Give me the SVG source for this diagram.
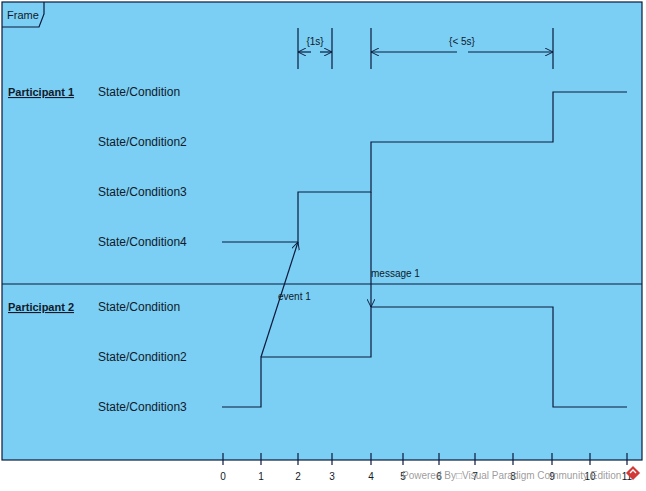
<svg xmlns="http://www.w3.org/2000/svg" width="646" height="491" viewBox="0 0 646 491">
<defs>
<style>
.ln{fill:none;stroke:#0B1A3C;stroke-width:1.2}
.t{font-family:"Liberation Sans",Arial,sans-serif;font-size:12px;fill:#111a2a}
.s{font-family:"Liberation Sans",Arial,sans-serif;font-size:10px;fill:#111a2a}
.p{font-family:"Liberation Sans",Arial,sans-serif;font-size:11px;font-weight:bold;fill:#111a2a;text-decoration:underline}
</style>
<marker id="ah" viewBox="0 0 10 10" refX="10" refY="5" markerWidth="8" markerHeight="8" orient="auto" markerUnits="userSpaceOnUse">
<path d="M0,0 L10,5 L0,10" fill="none" stroke="#0B1A3C" stroke-width="1.2"/>
</marker>
</defs>
<rect width="646" height="491" fill="#ffffff"/>
<g id="frame">
<rect x="2" y="2" width="640" height="458" fill="#7BCFF4" stroke="#0B1A3C" stroke-width="1.2"/>
<path class="ln" d="M2,27 L39,27 L44,14 L44,2"/>
<text class="s" x="7" y="19" style="font-size:11px">Frame</text>
<line class="ln" x1="2" y1="284" x2="642" y2="284"/>
</g>
<g id="participant1">
<text class="p" x="8" y="96">Participant 1</text>
<text class="t" x="98" y="96">State/Condition</text>
<text class="t" x="98" y="146">State/Condition2</text>
<text class="t" x="98" y="196">State/Condition3</text>
<text class="t" x="98" y="246">State/Condition4</text>
<path class="ln" d="M222,242 L298,242 L298,192 L371,192 L371,142 L553,142 L553,92 L627,92"/>
</g>
<g id="participant2">
<text class="p" x="8" y="311">Participant 2</text>
<text class="t" x="98" y="311">State/Condition</text>
<text class="t" x="98" y="361">State/Condition2</text>
<text class="t" x="98" y="411">State/Condition3</text>
<path class="ln" d="M222,407 L261,407 L261,357 L371,357 L371,307 L553,307 L553,407 L627,407"/>
</g>
<g id="connectors">
<line class="ln" x1="261" y1="357" x2="298" y2="242" marker-end="url(#ah)"/>
<text class="s" x="278" y="300">event 1</text>
<line class="ln" x1="371" y1="192" x2="371" y2="307" marker-end="url(#ah)"/>
<text class="s" x="371" y="277">message 1</text>
</g>
<g id="constraints">
<line class="ln" x1="298" y1="28" x2="298" y2="69"/>
<line class="ln" x1="332" y1="28" x2="332" y2="69"/>
<line class="ln" x1="311" y1="52" x2="298" y2="52" marker-end="url(#ah)"/>
<line class="ln" x1="320" y1="52" x2="332" y2="52" marker-end="url(#ah)"/>
<text class="s" x="315" y="45" text-anchor="middle">{1s}</text>
<line class="ln" x1="371" y1="28" x2="371" y2="69"/>
<line class="ln" x1="553" y1="28" x2="553" y2="69"/>
<line class="ln" x1="457" y1="52" x2="371" y2="52" marker-end="url(#ah)"/>
<line class="ln" x1="468" y1="52" x2="553" y2="52" marker-end="url(#ah)"/>
<text class="s" x="462" y="45" text-anchor="middle">{&lt; 5s}</text>
</g>
<g id="axis">
<path class="ln" d="M223,453V465M261,453V465M298,453V465M332,453V465M371,453V465M403,453V465M439,453V465M475,453V465M513,453V465M552,453V465M590,453V465M627,453V465"/>
<g class="s" text-anchor="middle">
<text x="223" y="480">0</text><text x="261" y="480">1</text><text x="298" y="480">2</text><text x="332" y="480">3</text><text x="371" y="480">4</text><text x="403" y="480">5</text><text x="439" y="480">6</text><text x="475" y="480">7</text><text x="513" y="480">8</text><text x="552" y="480">9</text><text x="590" y="480">10</text><text x="627" y="480">11</text>
</g>
</g>
<g id="watermark">
<text x="402" y="479" font-family="'Liberation Sans',Arial,sans-serif" font-size="10" fill="#8a8a8a" fill-opacity="0.85">Powered By□Visual Paradigm Community Edition</text>
<rect x="628" y="468" width="10" height="10" fill="#d23a3a" transform="rotate(45 633 473)"/>
<path d="M630,473 L633,470 L636,473" fill="none" stroke="#fff" stroke-width="1.3"/>
</g>
</svg>
